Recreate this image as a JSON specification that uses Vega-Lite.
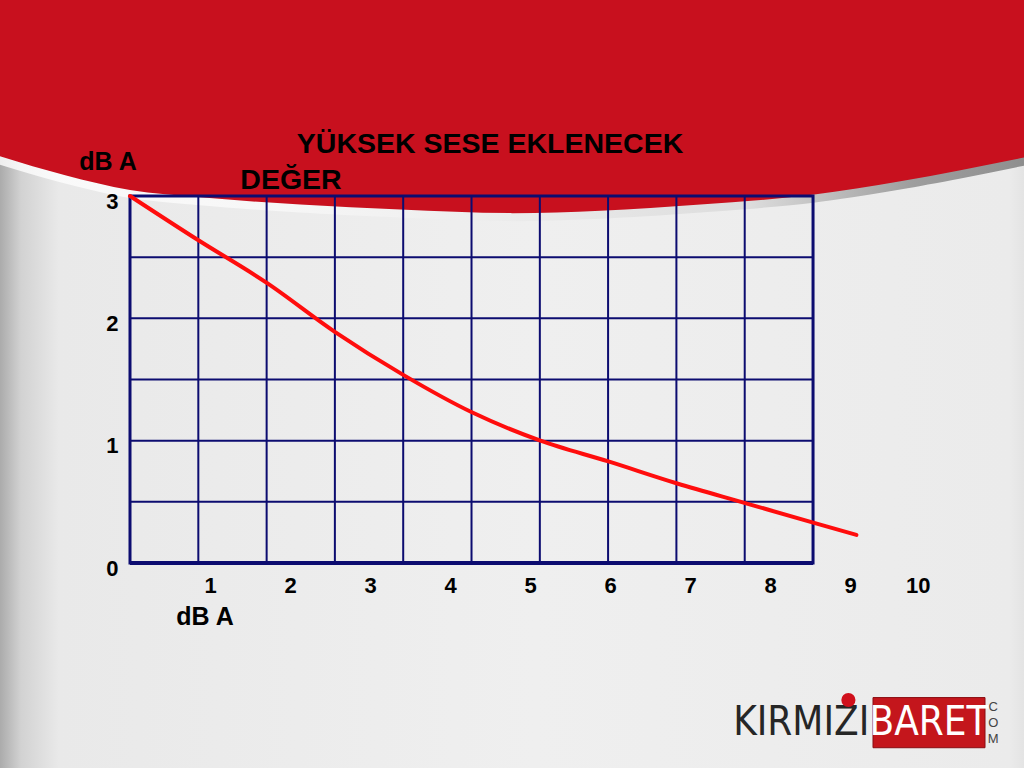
{
  "$schema": "https://vega.github.io/schema/vega-lite/v6.json",
  "autosize": {"type": "none"},
  "padding": {"left": 130, "top": 196, "right": 94, "bottom": 205},
  "width": 800,
  "height": 367,
  "background": "#ececec",
  "config": {
    "view": {"stroke": null},
    "font": "Liberation Sans",
    "axis": {"grid": false, "domain": false, "ticks": false, "title": null, "labelFont": "Liberation Sans", "labelFontWeight": "bold", "labelFontSize": 22, "labelColor": "#000000"}
  },
  "datasets": {
    "curve": [
      {"x": 0, "y": 3.0},
      {"x": 0.85, "y": 2.64},
      {"x": 1.71, "y": 2.29},
      {"x": 2.56, "y": 1.89},
      {"x": 3.41, "y": 1.54},
      {"x": 4.28, "y": 1.23},
      {"x": 5.13, "y": 1.0},
      {"x": 5.98, "y": 0.83},
      {"x": 6.84, "y": 0.65},
      {"x": 7.69, "y": 0.49},
      {"x": 8.54, "y": 0.33},
      {"x": 9.08, "y": 0.23}
    ],
    "band": [
      {"x": -1.7, "y": 3.34},
      {"x": -0.81, "y": 3.17},
      {"x": 0, "y": 3.05},
      {"x": 0.88, "y": 2.99},
      {"x": 2.13, "y": 2.93},
      {"x": 3.38, "y": 2.89},
      {"x": 4.78, "y": 2.86},
      {"x": 5.88, "y": 2.88},
      {"x": 7.13, "y": 2.93},
      {"x": 8.53, "y": 3.01},
      {"x": 9.63, "y": 3.12},
      {"x": 10.38, "y": 3.21},
      {"x": 11.8, "y": 3.4}
    ],
    "vgrid": [{"x": 0.854}, {"x": 1.708}, {"x": 2.561}, {"x": 3.415}, {"x": 4.269}, {"x": 5.123}, {"x": 5.976}, {"x": 6.83}, {"x": 7.684}],
    "hgrid": [{"y": 0.5}, {"y": 1}, {"y": 1.5}, {"y": 2}, {"y": 2.5}],
    "titles": [
      {"x": 4.5, "y": 3.425, "text": "YÜKSEK SESE EKLENECEK"},
      {"x": 2.0125, "y": 3.13, "text": "DEĞER"}
    ],
    "units": [
      {"x": -0.275, "y": 3.278, "text": "dB A"},
      {"x": 0.9375, "y": -0.441, "text": "dB A"}
    ],
    "com": [
      {"x": 10.79, "y": -1.18, "text": "C"},
      {"x": 10.79, "y": -1.305, "text": "O"},
      {"x": 10.79, "y": -1.435, "text": "M"}
    ],
    "one": [{"k": 1}]
  },
  "layer": [
    {
      "data": {"name": "one"},
      "mark": {"type": "rect", "fill": {"gradient": "linear", "x1": 0, "x2": 1, "y1": 0, "y2": 0, "stops": [
        {"offset": 0, "color": "#a0a0a0"},
        {"offset": 0.025, "color": "#d2d2d2"},
        {"offset": 0.06, "color": "#e9e9e9"},
        {"offset": 0.5, "color": "#efefef"},
        {"offset": 0.94, "color": "#ebebeb"},
        {"offset": 0.98, "color": "#d6d6d6"},
        {"offset": 1, "color": "#b8b8b8"}
      ]}},
      "encoding": {
        "x": {"datum": -1.7, "type": "quantitative", "scale": {"domain": [0, 10], "nice": false, "zero": false}, "axis": {"values": [1, 2, 3, 4, 5, 6, 7, 8, 9, 10], "format": "d", "labelPadding": 12, "zindex": 1}},
        "x2": {"datum": 11.8},
        "y": {"datum": -1.8, "type": "quantitative", "scale": {"domain": [0, 3], "nice": false, "zero": false}, "axis": {"values": [0, 1, 2, 3], "format": "d", "labelPadding": 12, "labelOffset": 5, "zindex": 1}},
        "y2": {"datum": 4.7}
      }
    },
    {
      "data": {"name": "band"},
      "mark": {"type": "line", "interpolate": "monotone", "strokeWidth": 16, "opacity": 0.8, "stroke": {"gradient": "linear", "x1": 0, "x2": 1, "y1": 0, "y2": 0, "stops": [
        {"offset": 0, "color": "#ffffff"},
        {"offset": 0.25, "color": "#fafafa"},
        {"offset": 0.45, "color": "#ededed"},
        {"offset": 0.7, "color": "#d8d8d8"},
        {"offset": 0.85, "color": "#8a8a8a"},
        {"offset": 1, "color": "#707070"}
      ]}},
      "encoding": {
        "x": {"field": "x", "type": "quantitative"},
        "y": {"field": "y", "type": "quantitative"}
      }
    },
    {
      "data": {"name": "band"},
      "mark": {"type": "area", "color": "#c8101e", "interpolate": "monotone"},
      "encoding": {
        "x": {"field": "x", "type": "quantitative"},
        "y": {"field": "y", "type": "quantitative"},
        "y2": {"datum": 4.7}
      }
    },
    {
      "data": {"name": "vgrid"},
      "mark": {"type": "rule", "color": "#0c0c70", "strokeWidth": 2},
      "encoding": {
        "x": {"field": "x", "type": "quantitative"},
        "y": {"datum": 0, "type": "quantitative"}, "y2": {"datum": 3}
      }
    },
    {
      "data": {"name": "hgrid"},
      "mark": {"type": "rule", "color": "#0c0c70", "strokeWidth": 2},
      "encoding": {
        "y": {"field": "y", "type": "quantitative"},
        "x": {"datum": 0, "type": "quantitative"}, "x2": {"datum": 8.538}
      }
    },
    {
      "data": {"name": "one"},
      "mark": {"type": "rect", "filled": false, "stroke": "#0c0c70", "strokeWidth": 3},
      "encoding": {"x": {"datum": 0, "type": "quantitative"}, "x2": {"datum": 8.538}, "y": {"datum": 0, "type": "quantitative"}, "y2": {"datum": 3}}
    },
    {
      "data": {"name": "one"},
      "mark": {"type": "rule", "color": "#0c0c70", "strokeWidth": 4},
      "encoding": {"x": {"datum": 0, "type": "quantitative"}, "x2": {"datum": 8.538}, "y": {"datum": 0, "type": "quantitative"}}
    },
    {
      "data": {"name": "curve"},
      "mark": {"type": "line", "color": "#ff0d0d", "strokeWidth": 4, "interpolate": "monotone", "strokeCap": "round"},
      "encoding": {
        "x": {"field": "x", "type": "quantitative"},
        "y": {"field": "y", "type": "quantitative"}
      }
    },
    {
      "data": {"name": "titles"},
      "mark": {"type": "text", "font": "Liberation Sans", "fontWeight": "bold", "fontSize": 28.5, "color": "#000000", "align": "center", "baseline": "middle"},
      "encoding": {
        "x": {"field": "x", "type": "quantitative"},
        "y": {"field": "y", "type": "quantitative"},
        "text": {"field": "text"}
      }
    },
    {
      "data": {"name": "units"},
      "mark": {"type": "text", "font": "Liberation Sans", "fontWeight": "bold", "fontSize": 25, "color": "#000000", "align": "center", "baseline": "middle"},
      "encoding": {
        "x": {"field": "x", "type": "quantitative"},
        "y": {"field": "y", "type": "quantitative"},
        "text": {"field": "text"}
      }
    },
    {
      "data": {"name": "one"},
      "mark": {"type": "rect", "color": "#c4161c", "stroke": "#8a0d12", "strokeWidth": 1},
      "encoding": {"x": {"datum": 9.2875, "type": "quantitative"}, "x2": {"datum": 10.6875}, "y": {"datum": -1.1, "type": "quantitative"}, "y2": {"datum": -1.51}}
    },
    {
      "data": {"name": "one"},
      "mark": {"type": "text", "text": "BARET", "font": "DejaVu Sans Condensed, Liberation Sans Narrow, sans-serif", "fontSize": 40, "color": "#ffffff", "align": "center", "baseline": "middle"},
      "encoding": {"x": {"datum": 9.9875, "type": "quantitative"}, "y": {"datum": -1.31, "type": "quantitative"}}
    },
    {
      "data": {"name": "one"},
      "mark": {"type": "text", "text": "KIRMIZI", "font": "DejaVu Sans Condensed, Liberation Sans Narrow, sans-serif", "fontSize": 40, "color": "#262626", "align": "center", "baseline": "middle"},
      "encoding": {"x": {"datum": 8.39, "type": "quantitative"}, "y": {"datum": -1.31, "type": "quantitative"}}
    },
    {
      "data": {"name": "one"},
      "mark": {"type": "point", "shape": "circle", "filled": true, "size": 200, "color": "#d0101c", "opacity": 1},
      "encoding": {"x": {"datum": 8.98, "type": "quantitative"}, "y": {"datum": -1.12, "type": "quantitative"}}
    },
    {
      "data": {"name": "com"},
      "mark": {"type": "text", "font": "Liberation Sans", "fontSize": 13, "color": "#444444", "align": "center", "baseline": "middle"},
      "encoding": {
        "x": {"field": "x", "type": "quantitative"},
        "y": {"field": "y", "type": "quantitative"},
        "text": {"field": "text"}
      }
    }
  ]
}
